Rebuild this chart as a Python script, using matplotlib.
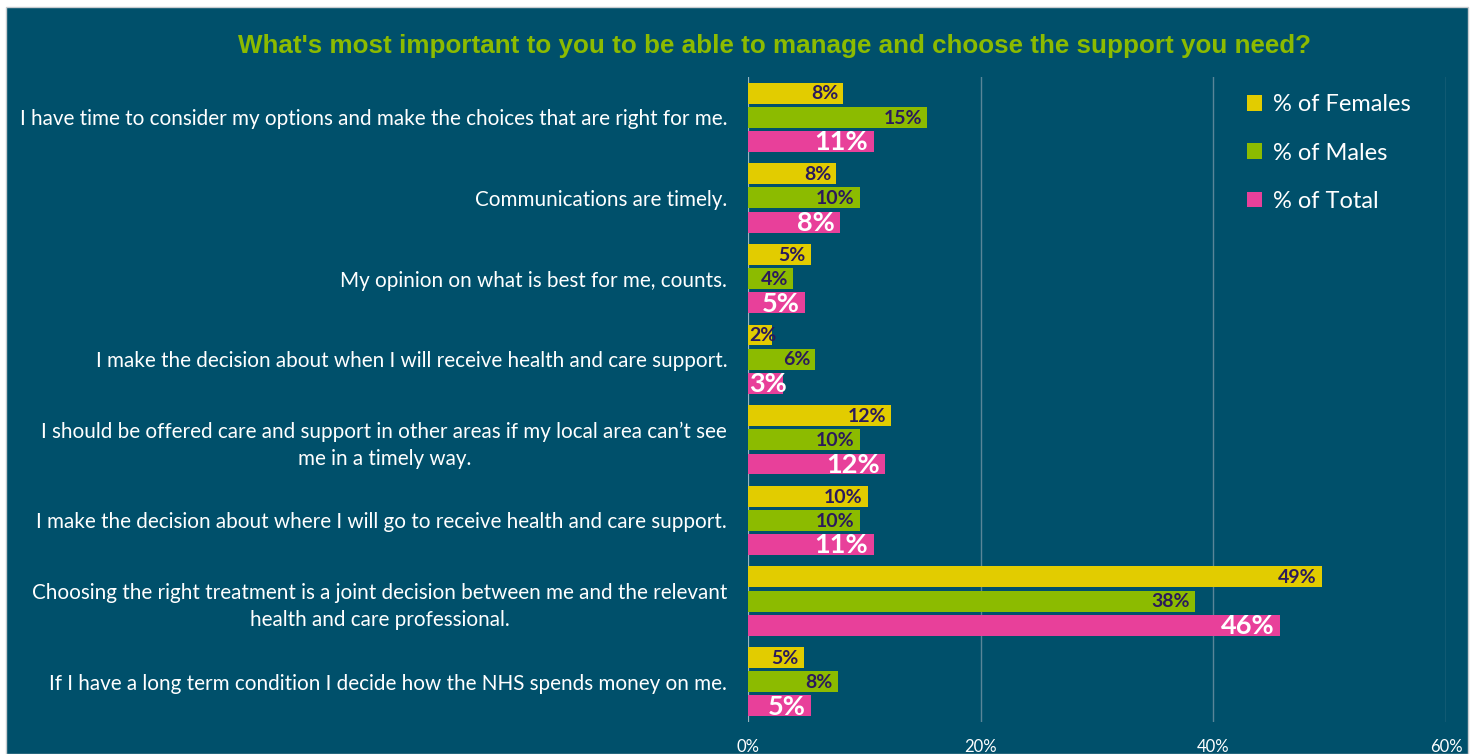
import matplotlib
matplotlib.use("Agg")
import matplotlib.pyplot as plt
import numpy as np
from matplotlib.patches import Rectangle

# Survey responses (% of each group choosing the statement)
statements = [
    "I have time to consider my options and make the choices that are right for me.",
    "Communications are timely.",
    "My opinion on what is best for me, counts.",
    "I make the decision about when I will receive health and care support.",
    "I should be offered care and support in other areas if my local area can\u2019t see\nme in a timely way.",
    "I make the decision about where I will go to receive health and care support.",
    "Choosing the right treatment is a joint decision between me and the relevant\nhealth and care professional.",
    "If I have a long term condition I decide how the NHS spends money on me.",
]
females = [8.2, 7.6, 5.4, 2.1, 12.3, 10.3, 49.3, 4.8]
males = [15.4, 9.6, 3.9, 5.8, 9.6, 9.6, 38.4, 7.7]
total = [10.8, 7.9, 4.9, 3.0, 11.8, 10.8, 45.7, 5.4]
series_names = ["% of Females", "% of Males", "% of Total"]
x_ticks = [0, 20, 40, 60]

BG = "#00506B"
YELLOW = "#E2CC00"
GREEN = "#8CBB00"
PINK = "#E8409A"
DARK = "#2B1A5C"
GRID = "#5A8598"
FONT = "Lato"

W, H = 1476, 754
fig = plt.figure(figsize=(W / 100, H / 100), dpi=100, facecolor="white")
# teal panel with a thin white margin on the left, top and right
fig.patches.append(Rectangle((6 / W, 0), (1468 - 6) / W, (H - 7) / H,
                             transform=fig.transFigure, facecolor=BG,
                             edgecolor="#C8CCD0", linewidth=1, zorder=-1))

ax = fig.add_axes([748 / W, 1 - 722 / H, (1446 - 748) / W, (722 - 77) / H])
ax.set_facecolor("none")

y = np.arange(len(statements))
bh = 0.26
off = 0.30
series = [(females, YELLOW, -off, DARK, 14), (males, GREEN, 0, DARK, 14),
          (total, PINK, off, "white", 19.5)]
for (vals, col, dy, tcol, fs), name in zip(series, series_names):
    bars = ax.barh(y + dy, vals, height=bh, color=col, label=name, zorder=3)
    for b, v in zip(bars, vals):
        yc = b.get_y() + b.get_height() / 2 + 0.01
        if v < 3.5:
            # too short for the label: start it at the bar base
            ax.text(0.1, yc, f"{v:.0f}%", ha="left", va="center", color=tcol,
                    fontsize=fs, fontweight="bold", family=FONT, zorder=4)
        else:
            ax.text(b.get_width() - 0.45, yc, f"{v:.0f}%", ha="right", va="center",
                    color=tcol, fontsize=fs, fontweight="bold", family=FONT, zorder=4)

ax.set_xlim(0, 60)
ax.set_ylim(len(statements) - 0.5, -0.5)
ax.set_xticks(x_ticks)
ax.set_xticklabels([f"{t}%" for t in x_ticks], color="white", fontsize=12, family=FONT)
ax.set_yticks(y)
ax.set_yticklabels(statements, color="white", fontsize=14.9, family=FONT,
                   multialignment="center", linespacing=1.42)
ax.tick_params(axis="both", length=0)
ax.tick_params(axis="y", pad=15)
ax.tick_params(axis="x", pad=12)
ax.grid(axis="x", color=GRID, linewidth=1, zorder=0)
ax.axvline(0, color="#A9BEC8", linewidth=1.2, zorder=2)
for s in ax.spines.values():
    s.set_visible(False)

leg = ax.legend(loc="upper right", bbox_to_anchor=(0.98, 1.006), frameon=False,
                prop={"family": FONT, "size": 17}, labelcolor="white",
                handlelength=0.65, handleheight=0.65, handletextpad=0.45,
                labelspacing=1.15)

fig.text(775 / W, 1 - 46 / H, "What's most important to you to be able to manage and choose the support you need?",
         ha="center", va="center", color="#8CBB00", fontsize=18.7,
         fontweight="bold", family="Liberation Sans")

fig.savefig("out.png", dpi=100, facecolor=fig.get_facecolor())
